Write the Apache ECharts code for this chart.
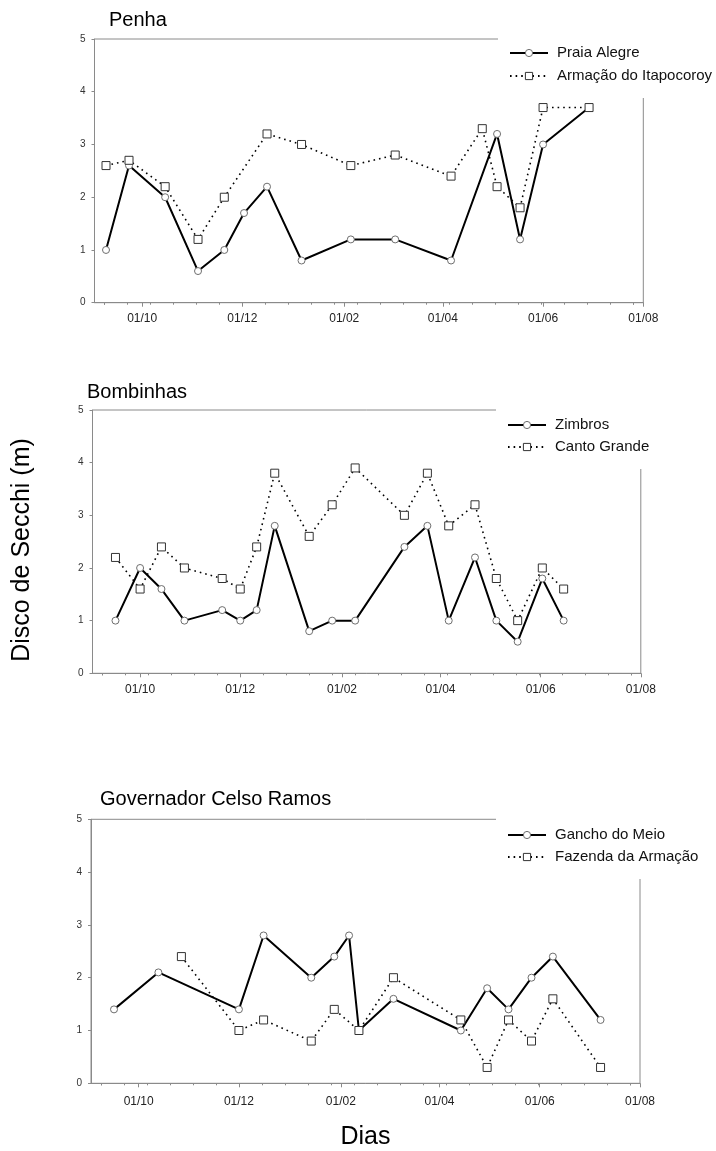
<!DOCTYPE html>
<html>
<head>
<meta charset="utf-8">
<script src="https://cdn.jsdelivr.net/npm/echarts@6/dist/echarts.min.js"></script>
<style>
  html, body { margin: 0; padding: 0; background: #fff; }
  #chart { width: 716px; height: 1151px; }
</style>
</head>
<body>
<div id="chart"></div>
<script>
// Secchi disk depth (m) at six beaches, Sept 2003 – Aug 2004

// Penha
const penhaTitle = 'Penha';
const praiaAlegreDates = ['2003-09-09','2003-09-23','2003-10-15','2003-11-04','2003-11-20','2003-12-02','2003-12-16','2004-01-06','2004-02-05','2004-03-03','2004-04-06','2004-05-04','2004-05-18','2004-06-01','2004-06-29'];
const praiaAlegreValues = [1.0, 2.6, 2.0, 0.6, 1.0, 1.7, 2.2, 0.8, 1.2, 1.2, 0.8, 3.2, 1.2, 3.0, 3.7];
const armacaoItapocoroyDates = ['2003-09-09','2003-09-23','2003-10-15','2003-11-04','2003-11-20','2003-12-16','2004-01-06','2004-02-05','2004-03-03','2004-04-06','2004-04-25','2004-05-04','2004-05-18','2004-06-01','2004-06-29'];
const armacaoItapocoroyValues = [2.6, 2.7, 2.2, 1.2, 2.0, 3.2, 3.0, 2.6, 2.8, 2.4, 3.3, 2.2, 1.8, 3.7, 3.7];

// Bombinhas
const bombinhasTitle = 'Bombinhas';
const bombinhasDates = ['2003-09-16','2003-10-01','2003-10-14','2003-10-28','2003-11-20','2003-12-01','2003-12-11','2003-12-22','2004-01-12','2004-01-26','2004-02-09','2004-03-10','2004-03-24','2004-04-06','2004-04-22','2004-05-05','2004-05-18','2004-06-02','2004-06-15'];
const zimbrosValues = [1.0, 2.0, 1.6, 1.0, 1.2, 1.0, 1.2, 2.8, 0.8, 1.0, 1.0, 2.4, 2.8, 1.0, 2.2, 1.0, 0.6, 1.8, 1.0];
const cantoGrandeValues = [2.2, 1.6, 2.4, 2.0, 1.8, 1.6, 2.4, 3.8, 2.6, 3.2, 3.9, 3.0, 3.8, 2.8, 3.2, 1.8, 1.0, 2.0, 1.6];

// Governador Celso Ramos
const gcrTitle = 'Governador Celso Ramos';
const ganchoDates = ['2003-09-16','2003-10-13','2003-12-01','2003-12-16','2004-01-14','2004-01-28','2004-02-06','2004-02-12','2004-03-04','2004-04-14','2004-04-30','2004-05-13','2004-05-27','2004-06-09','2004-07-08'];
const ganchoValues = [1.4, 2.1, 1.4, 2.8, 2.0, 2.4, 2.8, 1.0, 1.6, 1.0, 1.8, 1.4, 2.0, 2.4, 1.2];
const fazendaDates = ['2003-10-27','2003-12-01','2003-12-16','2004-01-14','2004-01-28','2004-02-12','2004-03-04','2004-04-14','2004-04-30','2004-05-13','2004-05-27','2004-06-09','2004-07-08'];
const fazendaValues = [2.4, 1.0, 1.2, 0.8, 1.4, 1.0, 2.0, 1.2, 0.3, 1.2, 0.8, 1.6, 0.3];

// Axes
const axisStart = '2003-09-02';
const axisEnd = '2004-08-01';
const majorTickDates = ['2003-10-01','2003-12-01','2004-02-01','2004-04-01','2004-06-01','2004-08-01'];
const minorTickStart = '2003-09-08';
const minorTickStepDays = 14;
const yTicks = [0, 1, 2, 3, 4, 5];
const yAxisTitle = 'Disco de Secchi (m)';
const xAxisTitle = 'Dias';

const FONT = '"Liberation Sans", Arial, Helvetica, sans-serif';
const AXIS_GRAY = '#8a8a8a';

const ts = s => echarts.time.parse(s).getTime();
const DAY = 86400000;
const minorTicks = [];
for (let t = ts(minorTickStart); t < ts(axisEnd); t += minorTickStepDays * DAY) minorTicks.push(t);
const majorTicks = majorTickDates.map(ts);

const pairs = (dates, values) => dates.map((d, i) => [ts(d), values[i]]);

const circleStyle = { color: '#fff', borderColor: '#6e6e6e', borderWidth: 1 };
const squareStyle = { color: '#fff', borderColor: '#333', borderWidth: 1 };

const panels = [
  {
    title: penhaTitle, titleLeft: 109, titleTop: 10,
    grid: { left: 94.5, top: 39, width: 548.8, height: 263.7 },
    labelMargin: 10,
    legend: { left: 498, top: 35, padding: [10, 20, 14, 11], gap: 7 },
    solid: { name: 'Praia Alegre', data: pairs(praiaAlegreDates, praiaAlegreValues) },
    dotted: { name: 'Armação do Itapocoroy', data: pairs(armacaoItapocoroyDates, armacaoItapocoroyValues) }
  },
  {
    title: bombinhasTitle, titleLeft: 87, titleTop: 382,
    grid: { left: 92.5, top: 410, width: 548.3, height: 263.3 },
    labelMargin: 10,
    legend: { left: 496, top: 405, padding: [12, 20, 14, 11], gap: 6 },
    solid: { name: 'Zimbros', data: pairs(bombinhasDates, zimbrosValues) },
    dotted: { name: 'Canto Grande', data: pairs(bombinhasDates, cantoGrandeValues) }
  },
  {
    title: gcrTitle, titleLeft: 100, titleTop: 789,
    grid: { left: 91, top: 819.3, width: 549, height: 264 },
    labelMargin: 12,
    legend: { left: 496, top: 815, padding: [12, 20, 14, 11], gap: 6 },
    solid: { name: 'Gancho do Meio', data: pairs(ganchoDates, ganchoValues) },
    dotted: { name: 'Fazenda da Armação', data: pairs(fazendaDates, fazendaValues) },
    xName: xAxisTitle
  }
];

const option = {
  animation: false,
  backgroundColor: '#fff',
  textStyle: { fontFamily: FONT },
  title: [], grid: [], xAxis: [], yAxis: [], legend: [], series: [],
  graphic: [{
    type: 'text', x: 22, y: 550, rotation: Math.PI / 2,
    style: { text: yAxisTitle, font: '25px ' + FONT, fill: '#000', textAlign: 'center', textVerticalAlign: 'middle' }
  }]
};

panels.forEach((p, i) => {
  option.title.push({
    text: p.title, left: p.titleLeft, top: p.titleTop, padding: 0,
    textStyle: { fontFamily: FONT, fontSize: 20, fontWeight: 'normal', color: '#000' }
  });
  option.grid.push(Object.assign({
    show: true, borderColor: AXIS_GRAY, borderWidth: 1, backgroundColor: 'transparent',
    containLabel: false, outerBoundsMode: 'none'
  }, p.grid));

  // main date axis: labelled ticks every two months
  option.xAxis.push({
    type: 'time', gridIndex: i, position: 'bottom',
    min: ts(axisStart), max: ts(axisEnd),
    name: p.xName || '', nameLocation: 'middle', nameGap: 41,
    nameTextStyle: { fontFamily: FONT, fontSize: 25, color: '#000' },
    axisLine: { show: true, lineStyle: { color: AXIS_GRAY, width: 1 } },
    axisTick: { show: true, inside: false, length: 4, customValues: majorTicks, lineStyle: { color: AXIS_GRAY } },
    axisLabel: {
      show: true, customValues: majorTicks, margin: p.labelMargin,
      formatter: '{dd}/{MM}', fontFamily: FONT, fontSize: 12, color: '#222',
      showMinLabel: true, showMaxLabel: true
    },
    splitLine: { show: false }
  });
  // companion axis carrying the fortnightly minor ticks
  option.xAxis.push({
    type: 'time', gridIndex: i, position: 'bottom',
    min: ts(axisStart), max: ts(axisEnd),
    axisLine: { show: false },
    axisTick: { show: true, length: 2, customValues: minorTicks, lineStyle: { color: AXIS_GRAY } },
    axisLabel: { show: false },
    splitLine: { show: false }
  });

  option.yAxis.push({
    type: 'value', gridIndex: i, min: yTicks[0], max: yTicks[yTicks.length - 1], interval: 1,
    axisLine: { show: true, lineStyle: { color: AXIS_GRAY, width: 1 } },
    axisTick: { show: true, length: 3, lineStyle: { color: AXIS_GRAY } },
    axisLabel: { margin: 9, fontFamily: FONT, fontSize: 10, color: '#333' },
    splitLine: { show: false }
  });

  option.legend.push({
    orient: 'vertical', left: p.legend.left, top: p.legend.top,
    padding: p.legend.padding, itemGap: p.legend.gap,
    backgroundColor: '#fff', borderWidth: 0,
    itemWidth: 38, itemHeight: 9,
    data: [
      { name: p.solid.name, itemStyle: circleStyle },
      { name: p.dotted.name, itemStyle: squareStyle }
    ],
    textStyle: { fontFamily: FONT, fontSize: 15, lineHeight: 16, color: '#111', padding: [0, 0, 0, 4] },
    z: 10
  });

  option.series.push({
    name: p.solid.name, type: 'line', xAxisIndex: i * 2, yAxisIndex: i,
    data: p.solid.data,
    symbol: 'circle', symbolSize: 7, showAllSymbol: true,
    lineStyle: { color: '#000', width: 2, type: 'solid' },
    itemStyle: circleStyle,
    z: 2
  });
  option.series.push({
    name: p.dotted.name, type: 'line', xAxisIndex: i * 2, yAxisIndex: i,
    data: p.dotted.data,
    symbol: 'rect', symbolSize: 8, showAllSymbol: true,
    lineStyle: { color: '#000', width: 1.6, type: [1.6, 4] },
    itemStyle: squareStyle,
    z: 3
  });
});

const chart = echarts.init(document.getElementById('chart'), null, { renderer: 'canvas' });
chart.setOption(option);
</script>
</body>
</html>
